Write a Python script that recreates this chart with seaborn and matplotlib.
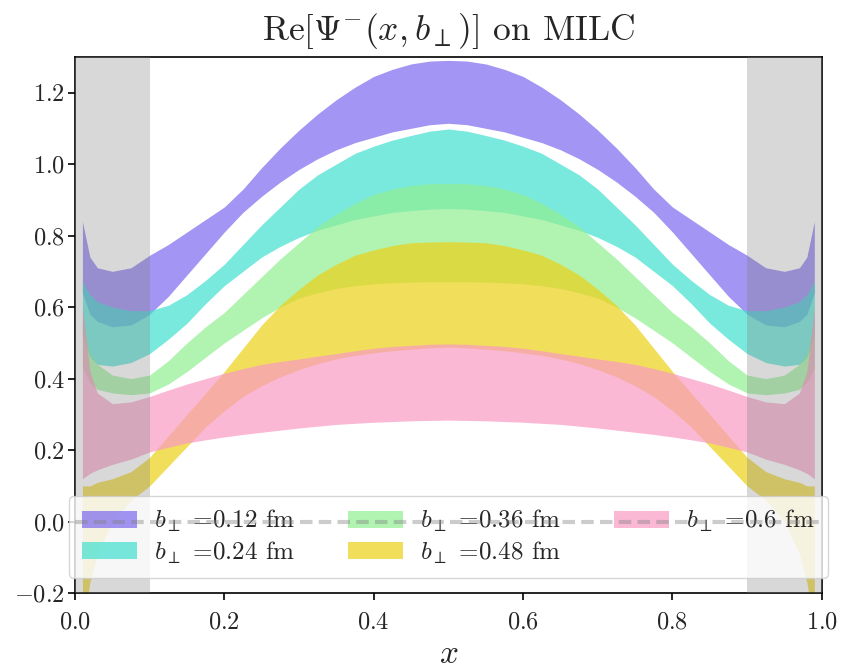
import matplotlib
matplotlib.use("Agg")
import matplotlib.pyplot as plt
import seaborn as sns

# ---- data ----
x = [0.01, 0.02, 0.03, 0.05, 0.075, 0.1, 0.125, 0.15, 0.175, 0.2, 0.225, 0.25, 0.275, 0.3,
     0.325, 0.35, 0.375, 0.4, 0.425, 0.45, 0.475, 0.5, 0.525, 0.55, 0.575, 0.6, 0.625, 0.65,
     0.675, 0.7, 0.725, 0.75, 0.775, 0.8, 0.825, 0.85, 0.875, 0.9, 0.925, 0.95, 0.97, 0.98, 0.99]

b012_hi = [0.84, 0.74, 0.71, 0.70, 0.71, 0.745, 0.775, 0.81, 0.845, 0.88, 0.93, 0.99, 1.045, 1.095,
           1.14, 1.18, 1.215, 1.245, 1.265, 1.28, 1.288, 1.29,
           1.288, 1.28, 1.265, 1.245, 1.215, 1.18, 1.14, 1.095, 1.045, 0.99, 0.93, 0.88, 0.845,
           0.81, 0.775, 0.745, 0.71, 0.70, 0.71, 0.74, 0.84]
b012_lo = [0.64, 0.58, 0.56, 0.545, 0.55, 0.58, 0.63, 0.69, 0.75, 0.81, 0.865, 0.91, 0.95, 0.985,
           1.015, 1.04, 1.06, 1.075, 1.09, 1.10, 1.11, 1.114,
           1.11, 1.10, 1.09, 1.075, 1.06, 1.04, 1.015, 0.985, 0.95, 0.91, 0.865, 0.81, 0.75,
           0.69, 0.63, 0.58, 0.55, 0.545, 0.56, 0.58, 0.64]

b024_hi = [0.67, 0.635, 0.615, 0.60, 0.59, 0.59, 0.605, 0.635, 0.675, 0.72, 0.775, 0.83, 0.88, 0.93,
           0.97, 1.00, 1.03, 1.05, 1.067, 1.08, 1.092, 1.098,
           1.092, 1.08, 1.067, 1.05, 1.03, 1.00, 0.97, 0.93, 0.88, 0.83, 0.775, 0.72, 0.675,
           0.635, 0.605, 0.59, 0.59, 0.60, 0.615, 0.635, 0.67]
b024_lo = [0.52, 0.46, 0.44, 0.435, 0.445, 0.47, 0.51, 0.555, 0.61, 0.66, 0.70, 0.74, 0.77, 0.795,
           0.815, 0.83, 0.845, 0.855, 0.865, 0.87, 0.874, 0.876,
           0.874, 0.87, 0.865, 0.855, 0.845, 0.83, 0.815, 0.795, 0.77, 0.74, 0.70, 0.66, 0.61,
           0.555, 0.51, 0.47, 0.445, 0.435, 0.44, 0.46, 0.52]

b036_hi = [0.56, 0.47, 0.44, 0.41, 0.40, 0.41, 0.45, 0.50, 0.545, 0.585, 0.635, 0.685, 0.735, 0.78,
           0.825, 0.86, 0.89, 0.915, 0.93, 0.94, 0.945, 0.946,
           0.945, 0.94, 0.93, 0.915, 0.89, 0.86, 0.825, 0.78, 0.735, 0.685, 0.635, 0.585, 0.545,
           0.50, 0.45, 0.41, 0.40, 0.41, 0.44, 0.47, 0.56]
b036_lo = [0.43, 0.39, 0.37, 0.36, 0.355, 0.36, 0.385, 0.42, 0.46, 0.50, 0.535, 0.57, 0.60, 0.625,
           0.64, 0.652, 0.66, 0.665, 0.668, 0.67, 0.671, 0.671,
           0.671, 0.67, 0.668, 0.665, 0.66, 0.652, 0.64, 0.625, 0.60, 0.57, 0.535, 0.50, 0.46,
           0.42, 0.385, 0.36, 0.355, 0.36, 0.37, 0.39, 0.43]

b048_hi = [0.10, 0.10, 0.11, 0.12, 0.14, 0.18, 0.24, 0.30, 0.36, 0.42, 0.485, 0.55, 0.605, 0.65,
           0.69, 0.72, 0.745, 0.76, 0.772, 0.78, 0.782, 0.783,
           0.782, 0.78, 0.772, 0.76, 0.745, 0.72, 0.69, 0.65, 0.605, 0.55, 0.485, 0.42, 0.36,
           0.30, 0.24, 0.18, 0.14, 0.12, 0.11, 0.10, 0.10]
b048_lo = [-0.30, -0.17, -0.09, 0.0, 0.06, 0.10, 0.155, 0.21, 0.265, 0.31, 0.35, 0.38, 0.405, 0.425,
           0.442, 0.455, 0.465, 0.472, 0.478, 0.482, 0.486, 0.488,
           0.486, 0.482, 0.478, 0.472, 0.465, 0.455, 0.442, 0.425, 0.405, 0.38, 0.35, 0.31, 0.265,
           0.21, 0.155, 0.10, 0.06, 0.0, -0.09, -0.17, -0.30]

b060_hi = [0.60, 0.42, 0.36, 0.33, 0.335, 0.35, 0.368, 0.385, 0.40, 0.415, 0.428, 0.44, 0.448, 0.455,
           0.463, 0.47, 0.478, 0.485, 0.49, 0.493, 0.496, 0.497,
           0.496, 0.493, 0.49, 0.485, 0.478, 0.47, 0.463, 0.455, 0.448, 0.44, 0.428, 0.415, 0.40,
           0.385, 0.368, 0.35, 0.335, 0.33, 0.36, 0.42, 0.60]
b060_lo = [0.12, 0.135, 0.145, 0.16, 0.175, 0.195, 0.208, 0.22, 0.229, 0.237, 0.244, 0.25, 0.256, 0.262,
           0.267, 0.272, 0.275, 0.278, 0.28, 0.282, 0.283, 0.284,
           0.283, 0.282, 0.28, 0.278, 0.275, 0.272, 0.267, 0.262, 0.256, 0.25, 0.244, 0.237, 0.229,
           0.22, 0.208, 0.195, 0.175, 0.16, 0.145, 0.135, 0.12]

labels = [r"$b_\perp$ =0.12 fm", r"$b_\perp$ =0.24 fm", r"$b_\perp$ =0.36 fm",
          r"$b_\perp$ =0.48 fm", r"$b_\perp$ =0.6 fm"]
colors = ["#7b68ee", "#40e0d0", "#90ee90", "#ecd116", "#f99ac4"]
bands = [(b012_lo, b012_hi), (b024_lo, b024_hi), (b036_lo, b036_hi),
         (b048_lo, b048_hi), (b060_lo, b060_hi)]

xticks = [0.0, 0.2, 0.4, 0.6, 0.8, 1.0]
yticks = [-0.2, 0.0, 0.2, 0.4, 0.6, 0.8, 1.0, 1.2]

# ---- style ----
sns.set_theme(style="ticks")
plt.rcParams["font.family"] = ["cmr10", "DejaVu Serif"]
plt.rcParams["mathtext.fontset"] = "cm"
plt.rcParams["axes.formatter.use_mathtext"] = True
plt.rcParams["axes.unicode_minus"] = True

fig = plt.figure(figsize=(8.42, 6.68), dpi=100)
ax = fig.add_axes([0.089, 0.112, 0.887, 0.803])

for (lo, hi), c, lab in zip(bands, colors, labels):
    ax.fill_between(x, lo, hi, color=c, alpha=0.7, linewidth=0, label=lab)

ax.axvspan(0.0, 0.1, color="grey", alpha=0.3, linewidth=0, zorder=3)
ax.axvspan(0.9, 1.0, color="grey", alpha=0.3, linewidth=0, zorder=3)

leg = ax.legend(loc="lower center", ncol=3, fontsize=18, handlelength=2.2,
                handletextpad=0.7, columnspacing=2.1, labelspacing=0.2,
                borderpad=0.5, borderaxespad=0.6)
ax.axhline(0.0, color="grey", alpha=0.4, linewidth=3, linestyle=(0, (3, 1.5)), zorder=6)

ax.set_xlim(0, 1)
ax.set_ylim(-0.2, 1.3)
ax.set_xticks(xticks)
ax.set_yticks(yticks)
ax.tick_params(labelsize=17.5, direction="out", length=5, width=1.2, color="black")
ax.tick_params(axis="x", pad=8)
ax.tick_params(axis="y", pad=2)
for s in ax.spines.values():
    s.set_color("black")
    s.set_linewidth(1.2)

ax.set_title(r"$\mathrm{Re}[\Psi^{-}(x,b_\perp)]$ on MILC", fontsize=25.5, pad=12)
ax.set_xlabel(r"$x$", fontsize=24, labelpad=5)

fig.savefig("out.png", dpi=100)
